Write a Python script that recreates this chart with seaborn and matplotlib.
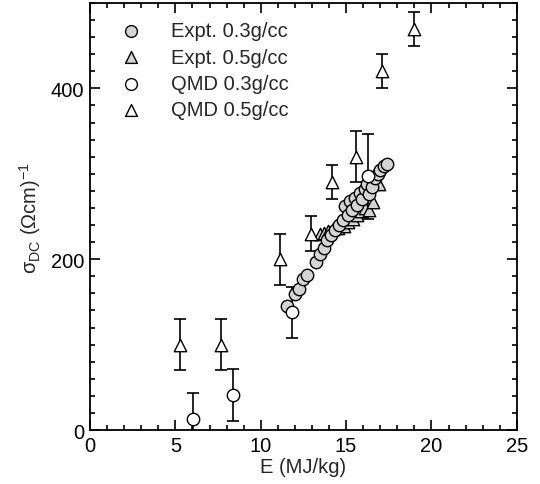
import matplotlib
matplotlib.use("Agg")
import matplotlib.pyplot as plt
import seaborn as sns
import pandas as pd
from matplotlib.ticker import MultipleLocator

# ---- data ----
expt03_E = [11.55, 12.0, 12.25, 12.5, 12.7, 13.25, 13.5, 13.7, 13.9, 14.1, 14.35, 14.6, 14.8,
            14.95, 15.1, 15.2, 15.35, 15.5, 15.65, 15.8, 15.95, 16.1, 16.2, 16.35, 16.5,
            16.7, 16.85, 17.0, 17.2, 17.4]
expt03_s = [145, 159, 165, 177, 182, 197, 206, 213, 222, 228, 234, 240, 246,
            262, 252, 268, 258, 272, 264, 278, 270, 282, 288, 276, 285,
            295, 300, 305, 309, 312]

expt05_E = [13.45, 13.7, 13.95, 14.25, 14.55, 14.85, 15.1, 15.4, 15.65, 15.85, 16.1, 16.35, 16.55, 16.9]
expt05_s = [229, 231, 233, 235, 237, 239, 243, 247, 252, 256, 260, 258, 267, 288]

qmd03_E = [6.05, 8.35, 11.85, 16.3]
qmd03_s = [13, 41, 138, 297]
qmd03_err = [30, 30, 30, 50]

qmd05_E = [5.25, 7.65, 11.15, 12.95, 14.2, 15.6, 17.1, 19.0]
qmd05_s = [100, 100, 200, 230, 290, 320, 420, 470]
qmd05_err = [30, 30, 30, 20, 20, 30, 20, 20]

labels = ["Expt. 0.3g/cc", "Expt. 0.5g/cc", "QMD 0.3g/cc", "QMD 0.5g/cc"]
x_ticks = [0, 5, 10, 15, 20, 25]
y_ticks = [0, 200, 400]

sns.set_style("ticks")
plt.rcParams['font.family'] = ['Liberation Sans', 'DejaVu Sans']
plt.rcParams['mathtext.default'] = 'regular'

fig = plt.figure(figsize=(5.4, 4.85), dpi=100)
ax = fig.add_axes([0.1667, 0.1113, 0.7904, 0.8805])

gray = "#d4d4d4"
ms = 80
fs = 14.5

ax.errorbar(qmd05_E, qmd05_s, yerr=qmd05_err, fmt='none', ecolor='black',
            elinewidth=1.2, capsize=4.5, capthick=1.2, zorder=1)
ax.errorbar(qmd03_E, qmd03_s, yerr=qmd03_err, fmt='none', ecolor='black',
            elinewidth=1.2, capsize=4.5, capthick=1.2, zorder=1)

df05 = pd.DataFrame({"E": expt05_E, "s": expt05_s})
df03 = pd.DataFrame({"E": expt03_E, "s": expt03_s})
dq03 = pd.DataFrame({"E": qmd03_E, "s": qmd03_s})
dq05 = pd.DataFrame({"E": qmd05_E, "s": qmd05_s})

sns.scatterplot(data=df05, x="E", y="s", marker="^", s=ms, color=gray,
                edgecolor="black", linewidth=1.0, ax=ax, zorder=2, label=labels[1])
sns.scatterplot(data=df03, x="E", y="s", marker="o", s=ms, color=gray,
                edgecolor="black", linewidth=1.0, ax=ax, zorder=3, label=labels[0])
sns.scatterplot(data=dq03, x="E", y="s", marker="o", s=ms, color="white",
                edgecolor="black", linewidth=1.0, ax=ax, zorder=4, label=labels[2])
sns.scatterplot(data=dq05, x="E", y="s", marker="^", s=ms, color="white",
                edgecolor="black", linewidth=1.0, ax=ax, zorder=4, label=labels[3])

handles, labs = ax.get_legend_handles_labels()
order = [labs.index(l) for l in labels]
leg = ax.legend([handles[i] for i in order], [labs[i] for i in order], loc="upper left",
                bbox_to_anchor=(0.02, 0.985), frameon=False, fontsize=fs,
                handletextpad=1.0, labelspacing=0.36, borderaxespad=0.2, markerscale=0.95)

ax.set_xlim(0, 25)
ax.set_ylim(0, 500)
ax.set_xticks(x_ticks)
ax.set_yticks(y_ticks)
ax.xaxis.set_minor_locator(MultipleLocator(1))
ax.yaxis.set_minor_locator(MultipleLocator(20))
ax.tick_params(which='both', direction='in', top=True, right=True, labelsize=fs,
               width=1.2, color='black', labelcolor='black', pad=4)
ax.tick_params(which='major', length=7)
ax.tick_params(which='minor', length=3.5)
for sp in ax.spines.values():
    sp.set_linewidth(1.3)
    sp.set_color('black')

ax.set_xlabel("E (MJ/kg)", fontsize=fs, labelpad=2)
ax.set_ylabel(r"σ$_{DC}$ (Ωcm)$^{-1}$", fontsize=fs, labelpad=6)

fig.savefig("out.png", dpi=100)
